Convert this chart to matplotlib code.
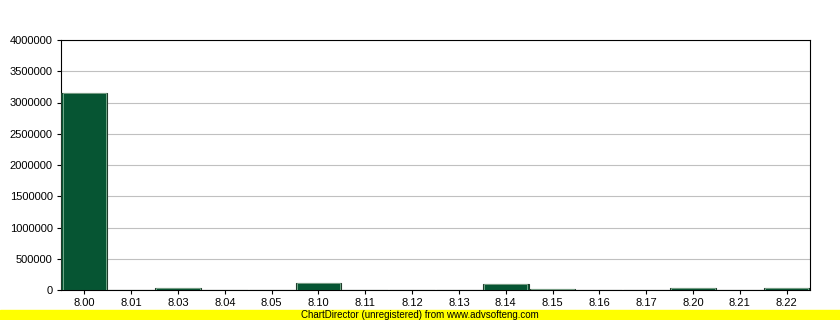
import numpy as np
import matplotlib
matplotlib.use('Agg')
from matplotlib import pyplot as plt

# category labels and bar values
categories = ['8.00', '8.01', '8.03', '8.04', '8.05', '8.10', '8.11', '8.12',
              '8.13', '8.14', '8.15', '8.16', '8.17', '8.20', '8.21', '8.22']
values = [3150000, 0, 30000, 0, 0, 110000, 0, 0,
          0, 95000, 10000, 0, 0, 30000, 0, 30000]
y_ticks = [0, 500000, 1000000, 1500000, 2000000, 2500000, 3000000, 3500000, 4000000]

plt.rcParams['font.family'] = ['Liberation Sans', 'DejaVu Sans']

fig = plt.figure(figsize=(8.4, 3.2), dpi=100)
ax = fig.add_axes([61 / 840, 30 / 320, 749 / 840, 250 / 320])

x = np.arange(len(categories))
ax.bar(x, values, width=0.98, color='#065533', edgecolor='#1f3a2a', linewidth=0.8, zorder=3)
# light inner highlight like the original bars
ax.bar(x, values, width=0.92, color='none', edgecolor='#9cc8aa', linewidth=0.5, zorder=4)

ax.set_xlim(-0.5, len(categories) - 0.5)
ax.set_ylim(0, 4000000)
ax.set_xticks(x)
ax.set_xticklabels(categories)
ax.set_yticks(y_ticks)
ax.set_yticklabels([str(v) for v in y_ticks])
ax.yaxis.grid(True, color='#c0c0c0', linewidth=0.8, zorder=0)
ax.tick_params(axis='both', labelsize=8, length=3, width=0.8, direction='out', pad=3)
for s in ax.spines.values():
    s.set_color('black')
    s.set_linewidth(0.8)

# footer band
fig.patches.append(plt.Rectangle((0, 0), 1, 10 / 320, transform=fig.transFigure,
                                 color='#ffff00', zorder=0))
fig.text(0.5, 5 / 320, 'ChartDirector (unregistered) from www.advsofteng.com',
         ha='center', va='center', fontsize=7)

fig.savefig('out.png', dpi=100)
